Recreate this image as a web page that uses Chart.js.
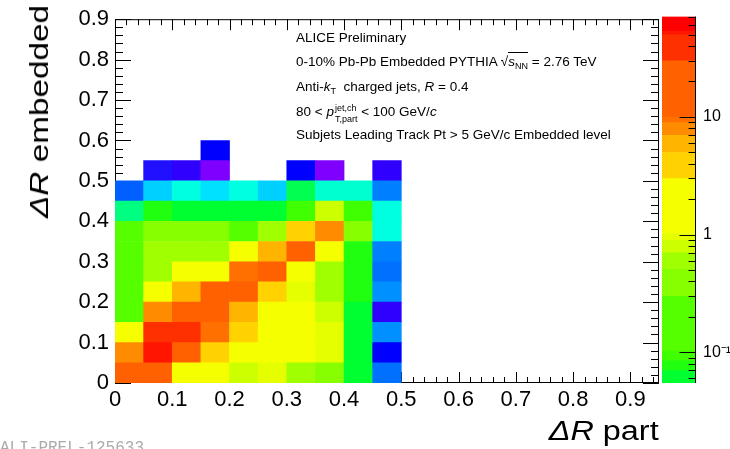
<!DOCTYPE html>
<html>
<head>
<meta charset="utf-8">
<script src="https://cdn.jsdelivr.net/npm/chart.js@4.4.1/dist/chart.umd.min.js"></script>
<style>
  html, body { margin: 0; padding: 0; background: #fff; overflow: hidden; }
  #wrap { position: relative; width: 730px; height: 449px; overflow: hidden; font-family: "Liberation Sans", Arial, sans-serif; color: #000; }
  #main { position: absolute; left: 0; top: 0; }
  #zbar { position: absolute; left: 662px; top: 0; }
  .note { position: absolute; left: 296px; font-size: 13.5px; white-space: nowrap; line-height: 16px; }
  .note sub { font-size: 9px; vertical-align: -3px; }
  .ov { border-top: 1px solid #000; padding-top: 1px; }
  .ss { display: inline-block; vertical-align: -6px; font-size: 9px; line-height: 11px; margin-left: 1px; }
  .ss span { display: block; }
  .xt { position: absolute; right: 71px; top: 416px; font-size: 27px; line-height: 30px; transform: scaleX(1.2); transform-origin: right top; white-space: nowrap; }
  .yt { position: absolute; left: 24px; top: 218px; font-size: 26px; line-height: 30px; transform: rotate(-90deg) scaleX(1.28); transform-origin: left top; white-space: nowrap; }
  .tag { position: absolute; left: 0; top: 440px; font-family: "Liberation Mono", monospace; font-size: 16px; line-height: 16px; color: #aaa; }
</style>
</head>
<body>
<div id="wrap">
  <canvas id="main" width="730" height="449"></canvas>
  <canvas id="zbar" width="68" height="449"></canvas>

  <div class="note" style="top:30px">ALICE Preliminary</div>
  <div class="note" style="top:54px">0-10% Pb-Pb Embedded PYTHIA &radic;<span class="ov"><i>s</i><sub>NN</sub></span> = 2.76 TeV</div>
  <div class="note" style="top:79px">Anti-<i>k</i><sub>T</sub>&nbsp; charged jets, <i>R</i> = 0.4</div>
  <div class="note" style="top:103px">80 &lt; <i>p</i><span class="ss"><span>jet,ch</span><span>T,part</span></span> &lt; 100 GeV/<i>c</i></div>
  <div class="note" style="top:127px">Subjets Leading Track Pt &gt; 5 GeV/c Embedded level</div>

  <div class="xt"><i>&Delta;R</i> part</div>
  <div class="yt"><i>&Delta;R</i> embedded</div>
  <div class="tag">ALI-PREL-125633</div>
</div>

<script>
"use strict";

// ── Data ────────────────────────────────────────────────────────────
// bin edges of the 2D histogram
const xBins = [0, 0.05, 0.1, 0.15, 0.2, 0.25, 0.3, 0.35, 0.4, 0.45, 0.5];
const yBins = [0, 0.05, 0.1, 0.15, 0.2, 0.25, 0.3, 0.35, 0.4, 0.45, 0.5, 0.55, 0.6];

// cell contents, one row per y bin (bottom row first), null = empty
const zCounts = [
  [17,    15,     1.6,    1.8,   0.8,   0.95,  0.6,    0.4,   0.062, 0.014],   // 0.00-0.05
  [7.9,   51,     17,     3.9,   1.7,   1.7,   1.5,    0.95,  0.062, 0.0093],  // 0.05-0.10
  [1.5,   38,     36,     9.4,   3.9,   1.8,   1.6,    0.95,  0.062, 0.0195],  // 0.10-0.15
  [0.17,  7.9,    17,     15,    5.9,   1.7,   1.4,    0.8,   0.062, 0.0056],  // 0.15-0.20
  [0.17,  1.6,    5.9,    17,    16,    3.9,   0.95,   0.6,   0.077, 0.0195],  // 0.20-0.25
  [0.17,  0.6,    1.6,    1.7,   9.4,   14,    1.5,    0.6,   0.077, 0.014],   // 0.25-0.30
  [0.17,  0.6,    0.6,    0.6,   1.5,   5.9,   14,     1.5,   0.077, 0.0166],  // 0.30-0.35
  [0.17,  0.4,    0.4,    0.4,   0.2,   0.6,   3.9,    7.9,   0.4,   0.032],   // 0.35-0.40
  [0.043, 0.077,  0.062,  0.062, 0.062, 0.062, 0.093,  0.8,   0.093, 0.032],   // 0.40-0.45
  [0.012, 0.023,  0.032,  0.027, 0.032, 0.023, 0.05,   0.037, 0.037, 0.0166],  // 0.45-0.50
  [null,  0.0071, 0.0056, 0.004, null,  null,  0.0093, 0.004, null,  0.0056],  // 0.50-0.55
  [null,  null,   null,   0.0093, null, null,  null,   null,  null,  null],    // 0.55-0.60
];

const xTickValues = [0, 0.1, 0.2, 0.3, 0.4, 0.5, 0.6, 0.7, 0.8, 0.9];
const yTickValues = [0, 0.1, 0.2, 0.3, 0.4, 0.5, 0.6, 0.7, 0.8, 0.9];
const zTickValues = [0.1, 1, 10];
const zTickLabels = ["10\u207B\u00B9", "1", "10"];

// ── Palette (lower edge of each colour band) ────────────────────────
const paletteLow = [0, 0.005, 0.0063, 0.0079, 0.011, 0.0129, 0.0151, 0.0178, 0.0209,
  0.0245, 0.0288, 0.0339, 0.0398, 0.0468, 0.0547, 0.0698, 0.0843, 0.102, 0.299,
  0.507, 0.698, 0.893, 1.02, 2.99, 4.98, 6.98, 8.93, 10, 29.9, 49.8, 53.7];
const paletteColors = ["#8000ff", "#3000ff", "#2010ff", "#0000ff", "#0060ff", "#0070ff",
  "#0080ff", "#0090ff", "#00d0ff", "#00e0ff", "#00ffe0", "#00ffd0", "#00ff80", "#00ff50",
  "#00ff30", "#20ff10", "#40ff00", "#55ff00", "#88ff00", "#a0ff00", "#ccff00", "#e6ff00",
  "#f5ff00", "#ffd200", "#ffb400", "#ff8c00", "#ff7000", "#ff6000", "#ff3000", "#ff1500",
  "#ff0000"];
const zMin = 0.0547, zMax = 71.2;

const zColor = z => {
  let k = 0;
  while (k + 1 < paletteLow.length && z >= paletteLow[k + 1]) k++;
  return paletteColors[k];
};

Chart.defaults.font.family = "'Liberation Sans', Arial, sans-serif";
Chart.defaults.color = "#000";

// ── Frame + ROOT style inner ticks ──────────────────────────────────
const frameTicks = {
  id: "frameTicks",
  beforeDatasetsDraw(chart) {
    const { ctx, chartArea: a, scales: { x, y } } = chart;
    ctx.save();
    ctx.strokeStyle = "#000";
    ctx.lineWidth = 1;
    ctx.beginPath();
    for (let k = 0; k * 0.02 <= x.max + 1e-9; k++) {
      const px = Math.round(x.getPixelForValue(k * 0.02)) + 0.5;
      const len = k % 5 === 0 ? 11 : 6;
      ctx.moveTo(px, a.bottom); ctx.lineTo(px, a.bottom - len);
      ctx.moveTo(px, a.top);    ctx.lineTo(px, a.top + len);
    }
    for (let k = 0; k * 0.02 <= y.max + 1e-9; k++) {
      const py = Math.round(y.getPixelForValue(k * 0.02)) + 0.5;
      const len = k % 5 === 0 ? 16 : 8;
      ctx.moveTo(a.left, py);  ctx.lineTo(a.left + len, py);
      ctx.moveTo(a.right, py); ctx.lineTo(a.right - len, py);
    }
    ctx.stroke();
    ctx.strokeRect(a.left + 0.5, a.top + 0.5, a.right - a.left - 1, a.bottom - a.top - 1);
    ctx.restore();
  },
};

new Chart(document.getElementById("main"), {
  type: "bar",
  data: {
    datasets: zCounts.map((row, j) => ({
      data: row
        .map((z, i) => z == null ? null : { x: (xBins[i] + xBins[i + 1]) / 2, y: [yBins[j], yBins[j + 1]], z })
        .filter(Boolean),
      backgroundColor: c => c.raw ? zColor(c.raw.z) : "#fff",
      borderWidth: 0,
      grouped: false,
      barPercentage: 1,
      categoryPercentage: 1,
    })),
  },
  options: {
    responsive: false,
    animation: false,
    devicePixelRatio: 1,
    layout: { padding: { top: 18, right: 71, left: 0, bottom: 0 } },
    plugins: { legend: { display: false }, tooltip: { enabled: false } },
    scales: {
      x: {
        type: "linear", min: 0, max: 0.95, offset: false,
        grid: { display: false, drawTicks: false }, border: { display: false },
        afterBuildTicks: s => { s.ticks = xTickValues.map(v => ({ value: v })); },
        afterFit: s => { s.height = 66; },
        ticks: { font: { size: 22 }, padding: 4, maxRotation: 0, autoSkip: false,
                 callback: v => String(Math.round(v * 10) / 10) },
      },
      y: {
        type: "linear", min: 0, max: 0.9,
        grid: { display: false, drawTicks: false }, border: { display: false },
        afterBuildTicks: s => { s.ticks = yTickValues.map(v => ({ value: v })); },
        afterFit: s => { s.width = 115; },
        ticks: { font: { size: 22 }, padding: 6,
                 callback: v => String(Math.round(v * 10) / 10) },
      },
    },
  },
  plugins: [frameTicks],
});

// ── Colour bar ──────────────────────────────────────────────────────
const zAxisTicks = {
  id: "zAxisTicks",
  afterDatasetsDraw(chart) {
    const { ctx, chartArea: a, scales: { y } } = chart;
    ctx.save();
    ctx.strokeStyle = "#000";
    ctx.lineWidth = 1;
    ctx.beginPath();
    const xr = a.right - 0.5;
    ctx.moveTo(xr, a.top); ctx.lineTo(xr, a.bottom);
    for (let dec = 0.01; dec < 100; dec *= 10) {
      for (let m = 1; m <= 9; m++) {
        const v = dec * m;
        if (v < zMin || v > zMax) continue;
        const py = Math.round(y.getPixelForValue(v)) + 0.5;
        const len = m === 1 ? 16 : 7;
        ctx.moveTo(xr, py); ctx.lineTo(xr - len, py);
      }
    }
    ctx.stroke();
    ctx.restore();
  },
};

const bands = paletteColors.map((c, k) => {
  const lo = Math.max(paletteLow[k], zMin);
  const hi = Math.min(k + 1 < paletteLow.length ? paletteLow[k + 1] : zMax, zMax);
  return { c, lo, hi };
}).filter(b => b.hi > b.lo);

new Chart(document.getElementById("zbar"), {
  type: "bar",
  data: {
    labels: ["z"],
    datasets: bands.map(b => ({
      data: [[b.lo, b.hi]],
      backgroundColor: b.c,
      borderWidth: 0,
      grouped: false,
      barPercentage: 1,
      categoryPercentage: 1,
    })),
  },
  options: {
    responsive: false,
    animation: false,
    devicePixelRatio: 1,
    layout: { padding: { top: 3, bottom: 66, left: 0, right: 0 } },
    plugins: { legend: { display: false }, tooltip: { enabled: false } },
    scales: {
      x: { display: false },
      y: {
        type: "logarithmic", position: "right", min: zMin, max: zMax,
        grid: { display: false, drawTicks: false }, border: { display: false },
        afterBuildTicks: s => { s.ticks = zTickValues.map(v => ({ value: v })); },
        afterFit: s => { s.width = 34; },
        ticks: { font: { size: 16 }, padding: 7,
                 callback: v => zTickLabels[zTickValues.indexOf(v)] },
      },
    },
  },
  plugins: [zAxisTicks],
});
</script>
</body>
</html>
